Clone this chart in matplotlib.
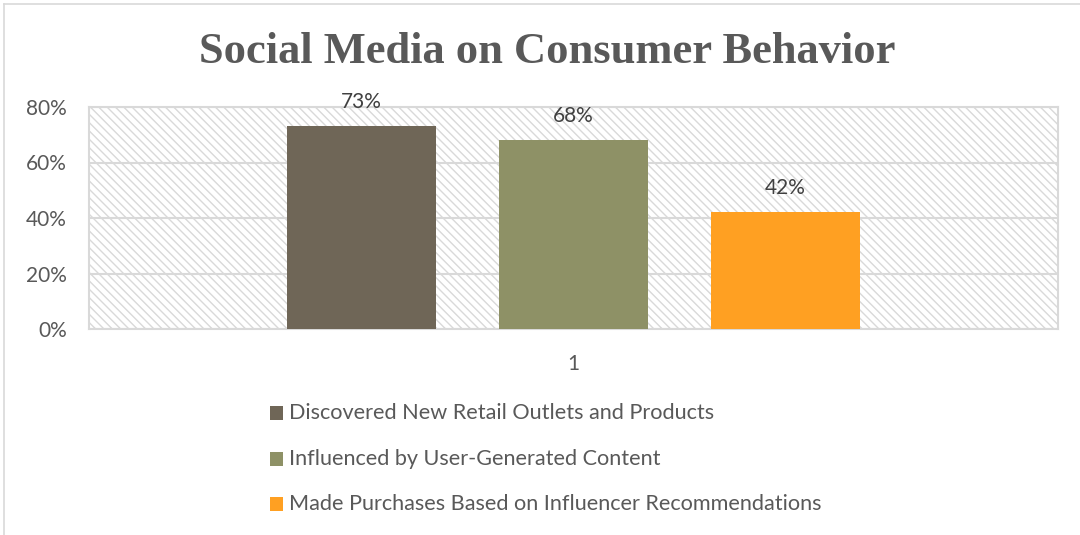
import matplotlib
matplotlib.use("Agg")
import matplotlib.pyplot as plt
from matplotlib.patches import Rectangle

categories = ["1"]
series_names = ["Discovered New Retail Outlets and Products",
                "Influenced by User-Generated Content",
                "Made Purchases Based on Influencer Recommendations"]
series_values = [73, 68, 42]
colors = ["#6F6657", "#8E9166", "#FFA022"]
yticks = [0, 20, 40, 60, 80]
ytick_labels = ["0%", "20%", "40%", "60%", "80%"]
title = "Social Media on Consumer Behavior"

W, H = 1080, 535
fig = plt.figure(figsize=(W/100, H/100), dpi=100)
plt.rcParams['hatch.color'] = '#D9D9D9'
plt.rcParams['hatch.linewidth'] = 1.0

ax = fig.add_axes([89/W, 1-329/H, (1058-89)/W, (329-107)/H])
ax.set_xlim(-0.5, 0.5)
ax.set_ylim(0, 80)

# hatched background
bg = Rectangle((0, 0), 1, 1, transform=ax.transAxes, facecolor='white',
               edgecolor='#D9D9D9', hatch='\\\\\\\\', linewidth=0, zorder=0)
ax.add_patch(bg)
ax.set_facecolor('none')

width = 149/969
step = 212/969
for i, (name, v, c) in enumerate(zip(series_names, series_values, colors)):
    x = (i - 1) * step
    ax.bar(x, v, width=width, color=c, label=name, zorder=3)
    ax.text(x, v + 5.2, f"{v}%", ha='center', va='bottom', fontsize=15,
            color='#404040', family='Lato', zorder=4)

ax.set_yticks(yticks)
ax.set_yticklabels(ytick_labels, fontsize=15, color='#595959', family='Lato')
ax.set_xticks([0])
ax.set_xticklabels(categories, fontsize=15, color='#595959', family='Lato')
ax.tick_params(axis='both', length=0)
ax.tick_params(axis='y', pad=16)
ax.tick_params(axis='x', pad=18)
ax.grid(axis='y', color='#D9D9D9', linewidth=1.5, zorder=1)
ax.set_axisbelow(True)
for s in ax.spines.values():
    s.set_color('#D9D9D9')
    s.set_linewidth(1.5)

fig.text(547/W, 1-52/H, title, ha='center', va='center', fontsize=32,
         fontweight='bold', color='#595959', family='Liberation Serif')

# legend
leg_y = [413, 459, 504]
for name, c, yy in zip(series_names, colors, leg_y):
    fig.patches.append(Rectangle((270/W, 1-(yy+7)/H), 13/W, 14/H,
                                 transform=fig.transFigure, facecolor=c,
                                 edgecolor='none'))
    fig.text(289/W, 1-yy/H, name, ha='left', va='center', fontsize=15.6,
             color='#595959', family='Lato')

# outer chart border (left/top visible)
fig.add_artist(plt.Line2D([4/W, 4/W], [0, 1-4/H], transform=fig.transFigure,
                          color='#D9D9D9', linewidth=1.2))
fig.add_artist(plt.Line2D([4/W, 1], [1-4/H, 1-4/H], transform=fig.transFigure,
                          color='#D9D9D9', linewidth=1.2))

fig.savefig("out.png", dpi=100)
